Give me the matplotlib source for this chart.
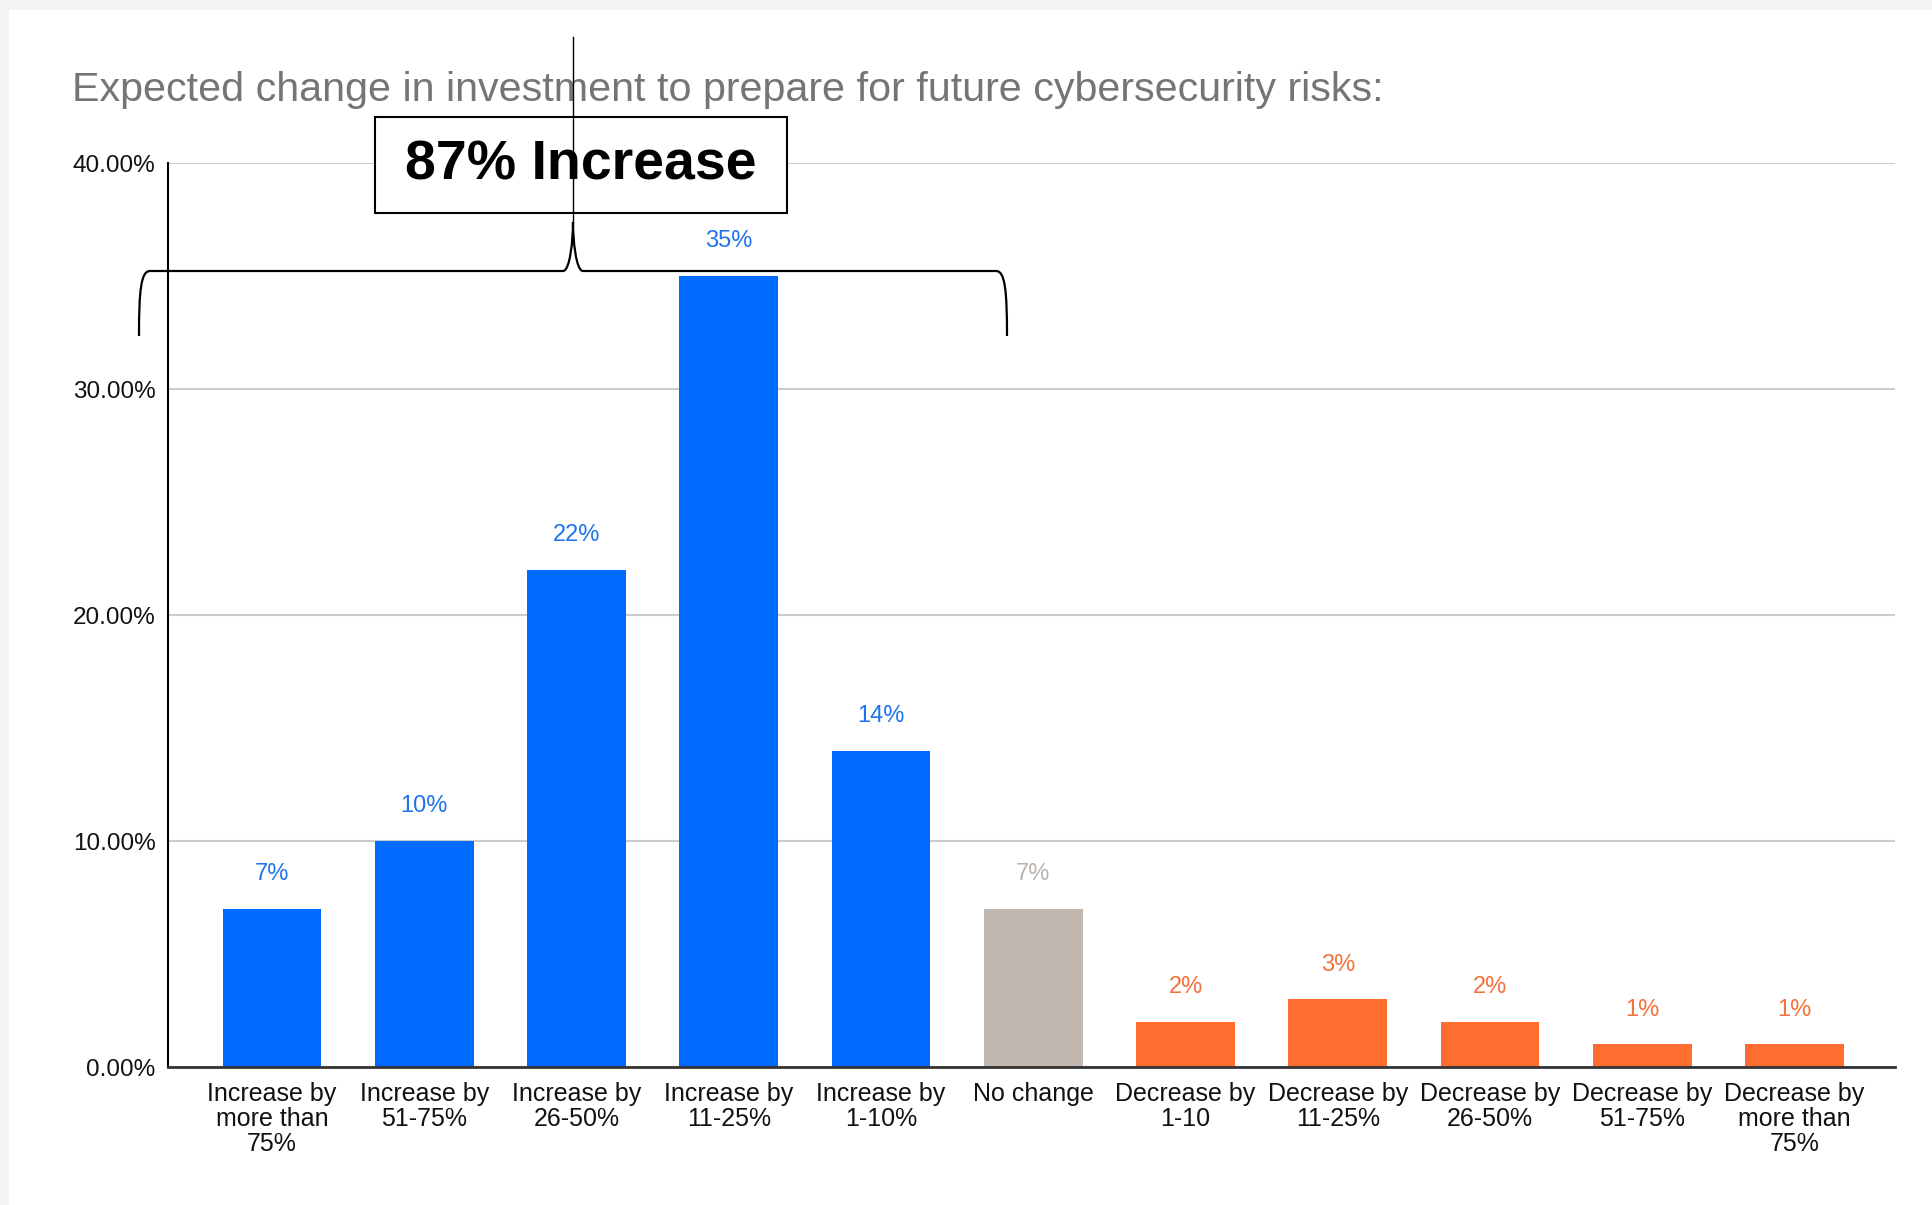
import matplotlib
matplotlib.use("Agg")
import matplotlib.pyplot as plt
from matplotlib.patches import Rectangle, PathPatch
from matplotlib.path import Path
from matplotlib.transforms import Affine2D
from matplotlib.ticker import FuncFormatter

plt.rcParams['font.family'] = ['Liberation Sans', 'DejaVu Sans']

# ---------------- data ----------------
categories = [
    "Increase by\nmore than\n75%", "Increase by\n51-75%", "Increase by\n26-50%",
    "Increase by\n11-25%", "Increase by\n1-10%", "No change",
    "Decrease by\n1-10", "Decrease by\n11-25%", "Decrease by\n26-50%",
    "Decrease by\n51-75%", "Decrease by\nmore than\n75%",
]
values = [0.07, 0.10, 0.22, 0.35, 0.14, 0.07, 0.02, 0.03, 0.02, 0.01, 0.01]
value_labels = ["7%", "10%", "22%", "35%", "14%", "7%", "2%", "3%", "2%", "1%", "1%"]
groups = ["inc"] * 5 + ["none"] + ["dec"] * 5
y_ticks = [0.0, 0.10, 0.20, 0.30, 0.40]
title = "Expected change in investment to prepare for future cybersecurity risks:"
callout = "87% Increase"

bar_colors = {"inc": "#006bff", "none": "#c2b8b1", "dec": "#ff6d31"}
label_colors = {"inc": "#1f74ee", "none": "#bcb3ac", "dec": "#f5723a"}

W, H = 1932, 1205
fig = plt.figure(figsize=(W / 100, H / 100), dpi=100, facecolor="white")

# reference-pixel transform for annotations (origin top-left)
P = Affine2D().scale(1 / W, -1 / H).translate(0, 1) + fig.transFigure

# light gray frame at top/left
fig.patches.append(Rectangle((0, 0), W, 10, transform=P, facecolor="#f3f3f3",
                             edgecolor="none", zorder=0))
fig.patches.append(Rectangle((0, 0), 9, H, transform=P, facecolor="#f3f3f3",
                             edgecolor="none", zorder=0))

ax = fig.add_axes([168 / W, 1 - 1067 / H, (1895 - 168) / W, (1067 - 163) / H])
ax.set_facecolor("white")

x = list(range(len(values)))
ax.bar(x, values, width=0.65, color=[bar_colors[g] for g in groups], zorder=3)

for xi, v, lab, g in zip(x, values, value_labels, groups):
    ax.annotate(lab, (xi, v), xytext=(0, 17), textcoords="offset points",
                ha="center", va="bottom", fontsize=17, color=label_colors[g])

ax.set_xlim(-0.683, 10.66)
ax.set_ylim(0, 0.40)
ax.set_yticks(y_ticks)
ax.yaxis.set_major_formatter(FuncFormatter(lambda v, p: f"{v * 100:.2f}%"))
ax.set_xticks(x)
ax.set_xticklabels(categories, fontsize=18, linespacing=1.05, color="#111111")
ax.tick_params(axis="y", length=0, pad=9, labelsize=17.5, labelcolor="#111111")
ax.tick_params(axis="x", length=0, pad=11)

ax.grid(axis="y", color="#cccccc", linewidth=1.5, zorder=0)
ax.set_axisbelow(True)
for s in ["top", "right"]:
    ax.spines[s].set_visible(False)
ax.spines["left"].set_color("black")
ax.spines["left"].set_linewidth(1.5)
ax.spines["bottom"].set_color("#333333")
ax.spines["bottom"].set_linewidth(2)
ax.spines["bottom"].set_zorder(4)

# title
fig.text(72 / W, 1 - 101 / H, title, fontsize=29.7, color="#757575",
         ha="left", va="baseline")

# callout box
fig.patches.append(Rectangle((375, 117), 412, 96, transform=P, facecolor="white",
                             edgecolor="black", linewidth=1.5, zorder=5))
fig.text(581 / W, 1 - 165 / H, callout, fontsize=40, fontweight="bold",
         color="black", ha="center", va="center", zorder=6)

# curly brace
verts = [
    (139, 336), (139, 290), (141, 271), (150, 271),
    (563, 271),
    (570, 271), (573, 240), (573, 222),
    (573, 240), (576, 271), (583, 271),
    (996, 271),
    (1005, 271), (1007, 290), (1007, 336),
]
codes = [Path.MOVETO, Path.CURVE4, Path.CURVE4, Path.CURVE4,
         Path.LINETO,
         Path.CURVE4, Path.CURVE4, Path.CURVE4,
         Path.CURVE4, Path.CURVE4, Path.CURVE4,
         Path.LINETO,
         Path.CURVE4, Path.CURVE4, Path.CURVE4]
fig.patches.append(PathPatch(Path(verts, codes), transform=P, facecolor="none",
                             edgecolor="black", linewidth=1.6, zorder=7))
# thin vertical pointer line
fig.lines.append(plt.Line2D([573, 573], [37, 222], transform=P, color="black",
                            linewidth=1.0, zorder=8))

fig.savefig("out.png", dpi=100, facecolor="white")
